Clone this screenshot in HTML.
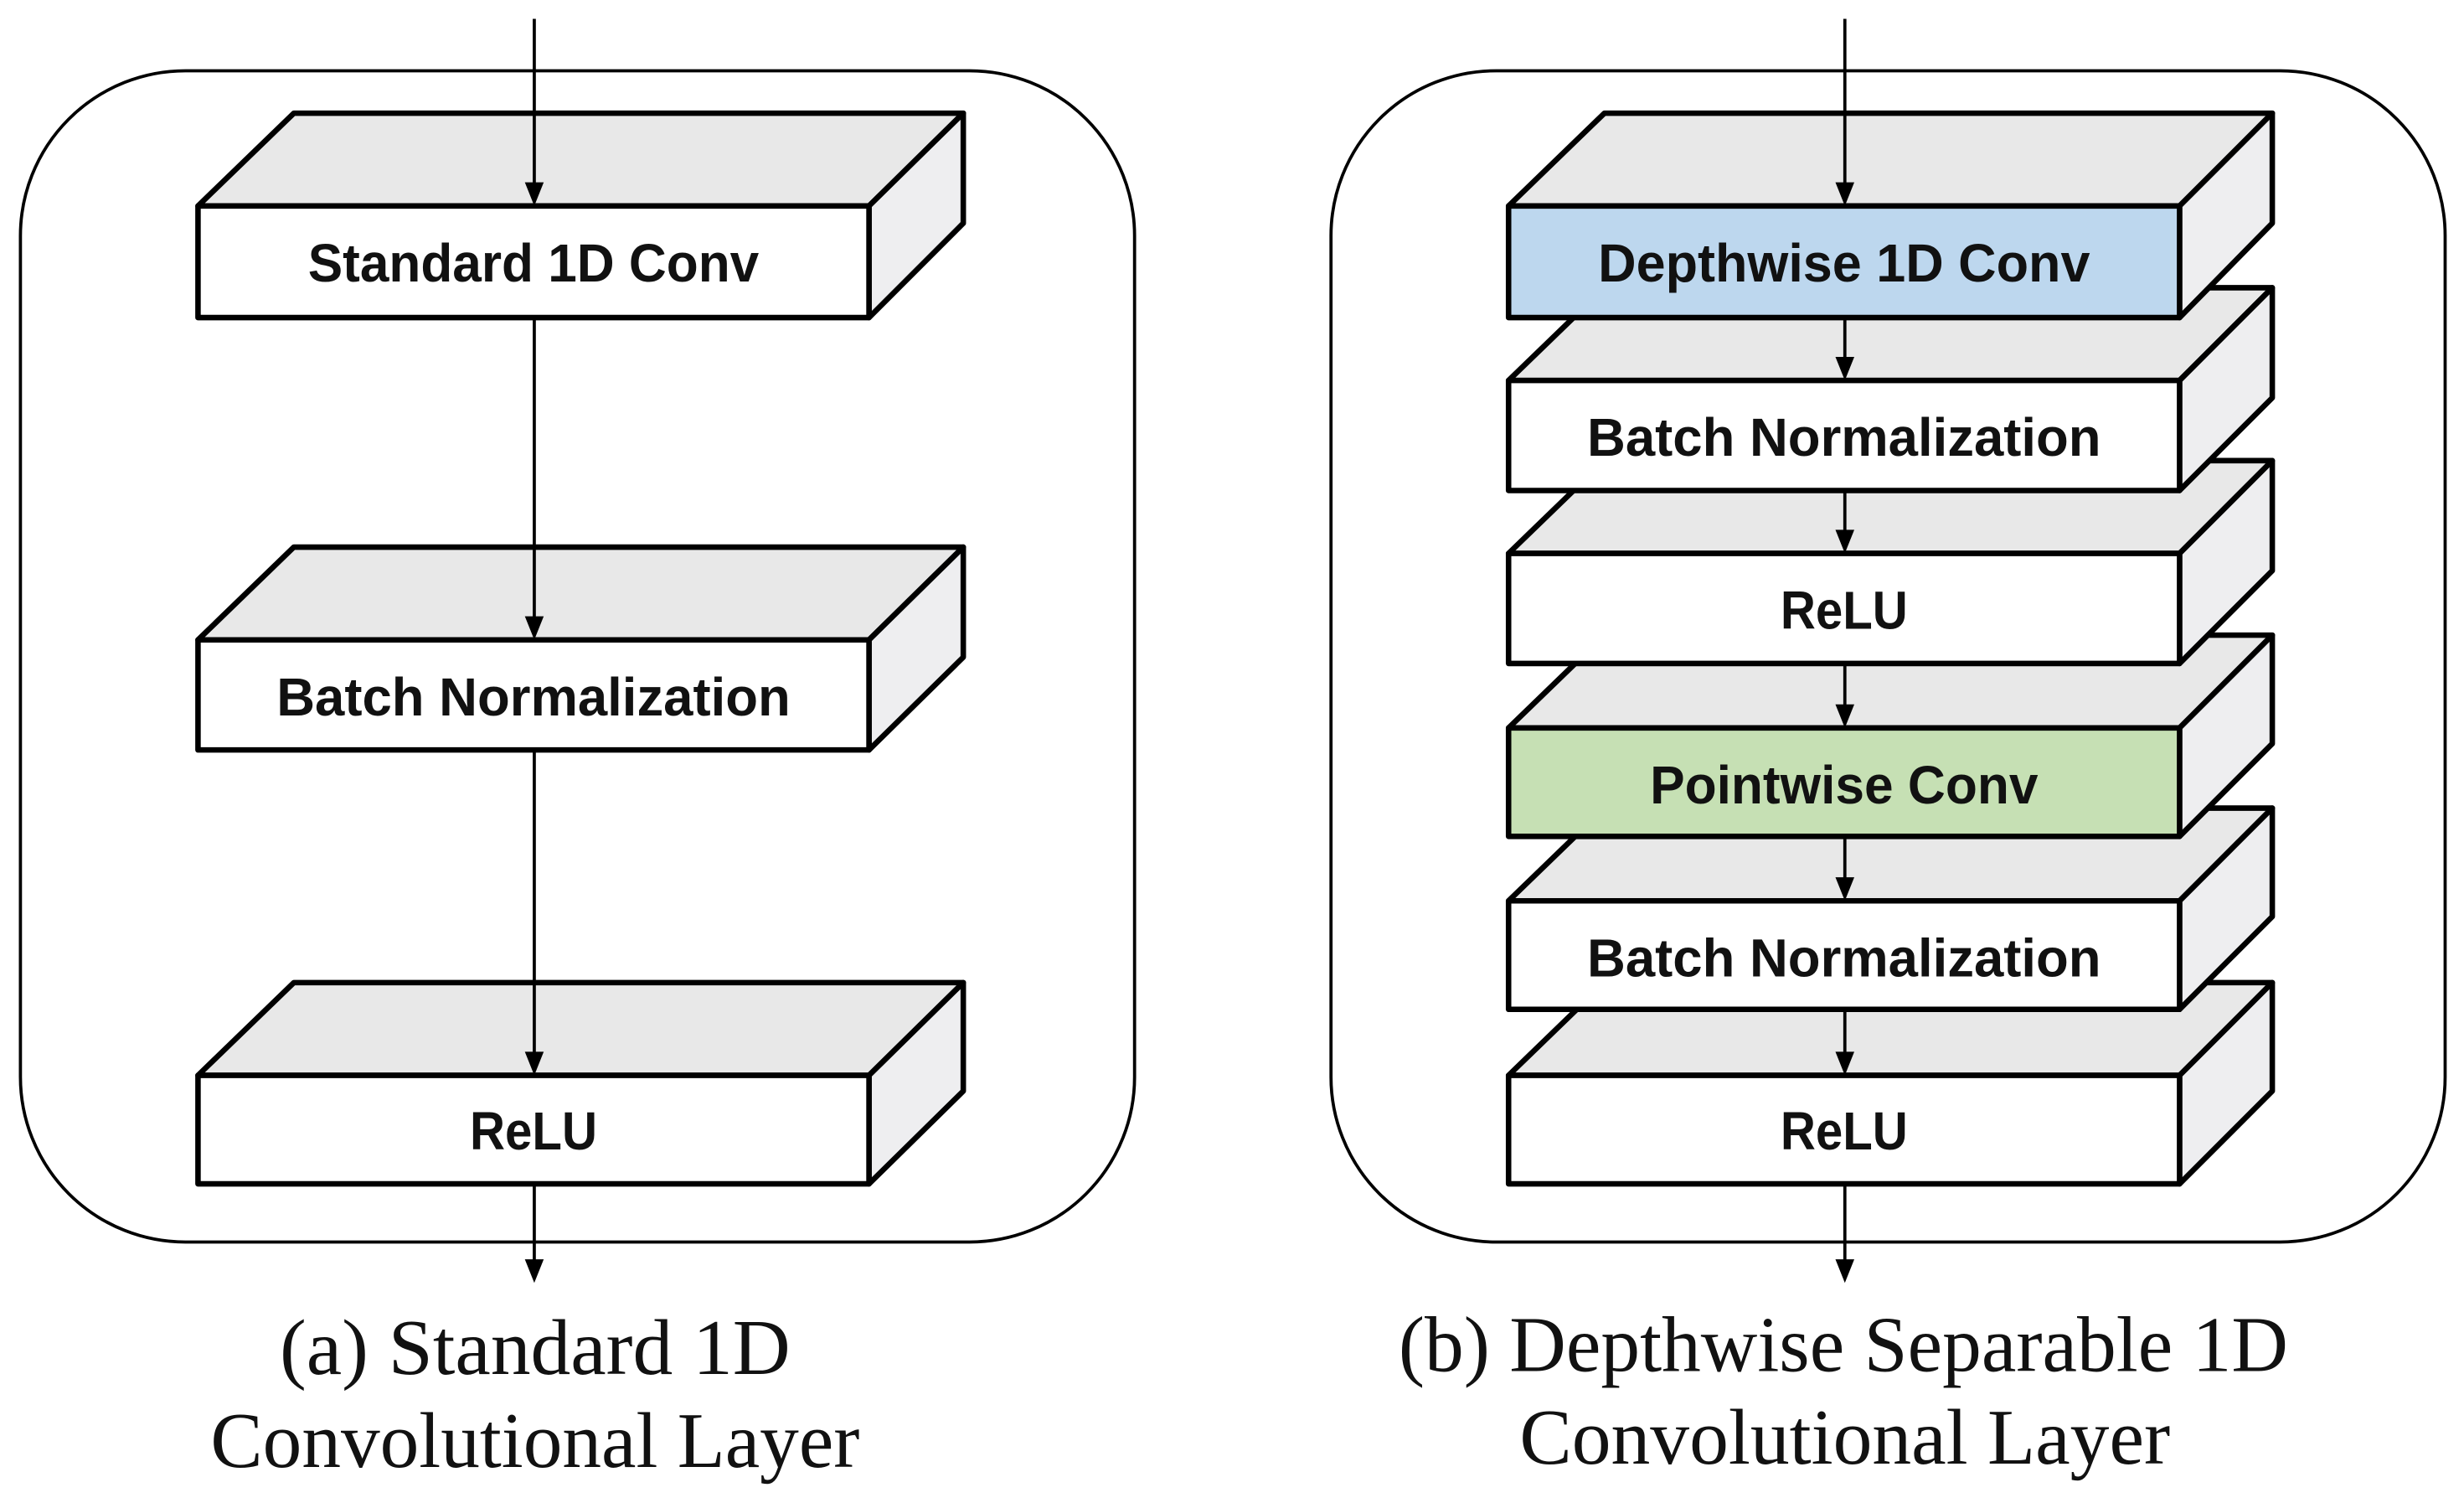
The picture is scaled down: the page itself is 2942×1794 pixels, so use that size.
<!DOCTYPE html>
<html><head><meta charset="utf-8"><style>
html,body{margin:0;padding:0;background:#fff;}
svg{display:block;}
</style></head><body>
<svg width="2942" height="1794" viewBox="0 0 1568 956" preserveAspectRatio="none" xmlns="http://www.w3.org/2000/svg">
<rect x="13" y="45" width="709" height="745" rx="105" ry="105" fill="none" stroke="#000" stroke-width="2"/>
<rect x="847" y="45" width="709" height="745" rx="105" ry="105" fill="none" stroke="#000" stroke-width="2"/>

<g stroke="#000" stroke-width="3.5" stroke-linejoin="round">
<polygon points="126,131 187,72 613,72 553,131" fill="#e8e8e8"/>
<polygon points="553,131 613,72 613,142 553,202" fill="#eeeef0"/>
<rect x="126" y="131" width="427" height="71" fill="#fff"/>
<polygon points="126,407 187,348 613,348 553,407" fill="#e8e8e8"/>
<polygon points="553,407 613,348 613,418 553,477" fill="#eeeef0"/>
<rect x="126" y="407" width="427" height="70" fill="#fff"/>
<polygon points="126,684 187,625 613,625 553,684" fill="#e8e8e8"/>
<polygon points="553,684 613,625 613,694 553,753" fill="#eeeef0"/>
<rect x="126" y="684" width="427" height="69" fill="#fff"/>

<polygon points="960,684 1021,625 1446,625 1387,684" fill="#e8e8e8"/>
<polygon points="1387,684 1446,625 1446,694 1387,753" fill="#eeeef0"/>
<rect x="960" y="684" width="427" height="69" fill="#fff"/>
<polygon points="960,573 1021,514 1446,514 1387,573" fill="#e8e8e8"/>
<polygon points="1387,573 1446,514 1446,583 1387,642" fill="#eeeef0"/>
<rect x="960" y="573" width="427" height="69" fill="#fff"/>
<polygon points="960,463 1021,404 1446,404 1387,463" fill="#e8e8e8"/>
<polygon points="1387,463 1446,404 1446,473 1387,532" fill="#eeeef0"/>
<rect x="960" y="463" width="427" height="69" fill="#c6e0b4"/>
<polygon points="960,352 1021,293 1446,293 1387,352" fill="#e8e8e8"/>
<polygon points="1387,352 1446,293 1446,363 1387,422" fill="#eeeef0"/>
<rect x="960" y="352" width="427" height="70" fill="#fff"/>
<polygon points="960,242 1021,183 1446,183 1387,242" fill="#e8e8e8"/>
<polygon points="1387,242 1446,183 1446,253 1387,312" fill="#eeeef0"/>
<rect x="960" y="242" width="427" height="70" fill="#fff"/>
<polygon points="960,131 1021,72 1446,72 1387,131" fill="#e8e8e8"/>
<polygon points="1387,131 1446,72 1446,142 1387,202" fill="#eeeef0"/>
<rect x="960" y="131" width="427" height="71" fill="#bdd7ee"/>
</g>

<g stroke="#000" stroke-width="2" fill="none">
<line x1="340" y1="12" x2="340" y2="120"/>
<line x1="340" y1="203" x2="340" y2="396"/>
<line x1="340" y1="478" x2="340" y2="673"/>
<line x1="340" y1="754" x2="340" y2="804"/>
<line x1="1174" y1="12" x2="1174" y2="120"/>
<line x1="1174" y1="203" x2="1174" y2="231"/>
<line x1="1174" y1="313" x2="1174" y2="341"/>
<line x1="1174" y1="423" x2="1174" y2="452"/>
<line x1="1174" y1="533" x2="1174" y2="562"/>
<line x1="1174" y1="643" x2="1174" y2="673"/>
<line x1="1174" y1="754" x2="1174" y2="804"/>
</g>
<g fill="#000">
<polygon points="334,116 346,116 340,131"/>
<polygon points="334,392 346,392 340,407"/>
<polygon points="334,669 346,669 340,684"/>
<polygon points="334,801 346,801 340,816"/>
<polygon points="1168,116 1180,116 1174,131"/>
<polygon points="1168,227 1180,227 1174,242"/>
<polygon points="1168,337 1180,337 1174,352"/>
<polygon points="1168,448 1180,448 1174,463"/>
<polygon points="1168,558 1180,558 1174,573"/>
<polygon points="1168,669 1180,669 1174,684"/>
<polygon points="1168,801 1180,801 1174,816"/>
</g>

<g font-family="'Liberation Sans', sans-serif" font-weight="bold" font-size="34" fill="#111">
<text x="196" y="179" textLength="287" lengthAdjust="spacingAndGlyphs">Standard 1D Conv</text>
<text x="176" y="455" textLength="327" lengthAdjust="spacingAndGlyphs">Batch Normalization</text>
<text x="299" y="731" textLength="81" lengthAdjust="spacingAndGlyphs">ReLU</text>
<text x="1017" y="179" textLength="313" lengthAdjust="spacingAndGlyphs">Depthwise 1D Conv</text>
<text x="1010" y="290" textLength="327" lengthAdjust="spacingAndGlyphs">Batch Normalization</text>
<text x="1133" y="400" textLength="81" lengthAdjust="spacingAndGlyphs">ReLU</text>
<text x="1050" y="511" textLength="247" lengthAdjust="spacingAndGlyphs">Pointwise Conv</text>
<text x="1010" y="621" textLength="327" lengthAdjust="spacingAndGlyphs">Batch Normalization</text>
<text x="1133" y="731" textLength="81" lengthAdjust="spacingAndGlyphs">ReLU</text>
</g>

<g font-family="'Liberation Serif', serif" font-size="50" fill="#111">
<text x="178" y="874" textLength="325" lengthAdjust="spacingAndGlyphs">(a)  Standard 1D</text>
<text x="134" y="933" textLength="413" lengthAdjust="spacingAndGlyphs">Convolutional Layer</text>
<text x="890" y="872" textLength="566" lengthAdjust="spacingAndGlyphs">(b) Depthwise Separable 1D</text>
<text x="967" y="931" textLength="414" lengthAdjust="spacingAndGlyphs">Convolutional Layer</text>
</g>
</svg>
</body></html>
